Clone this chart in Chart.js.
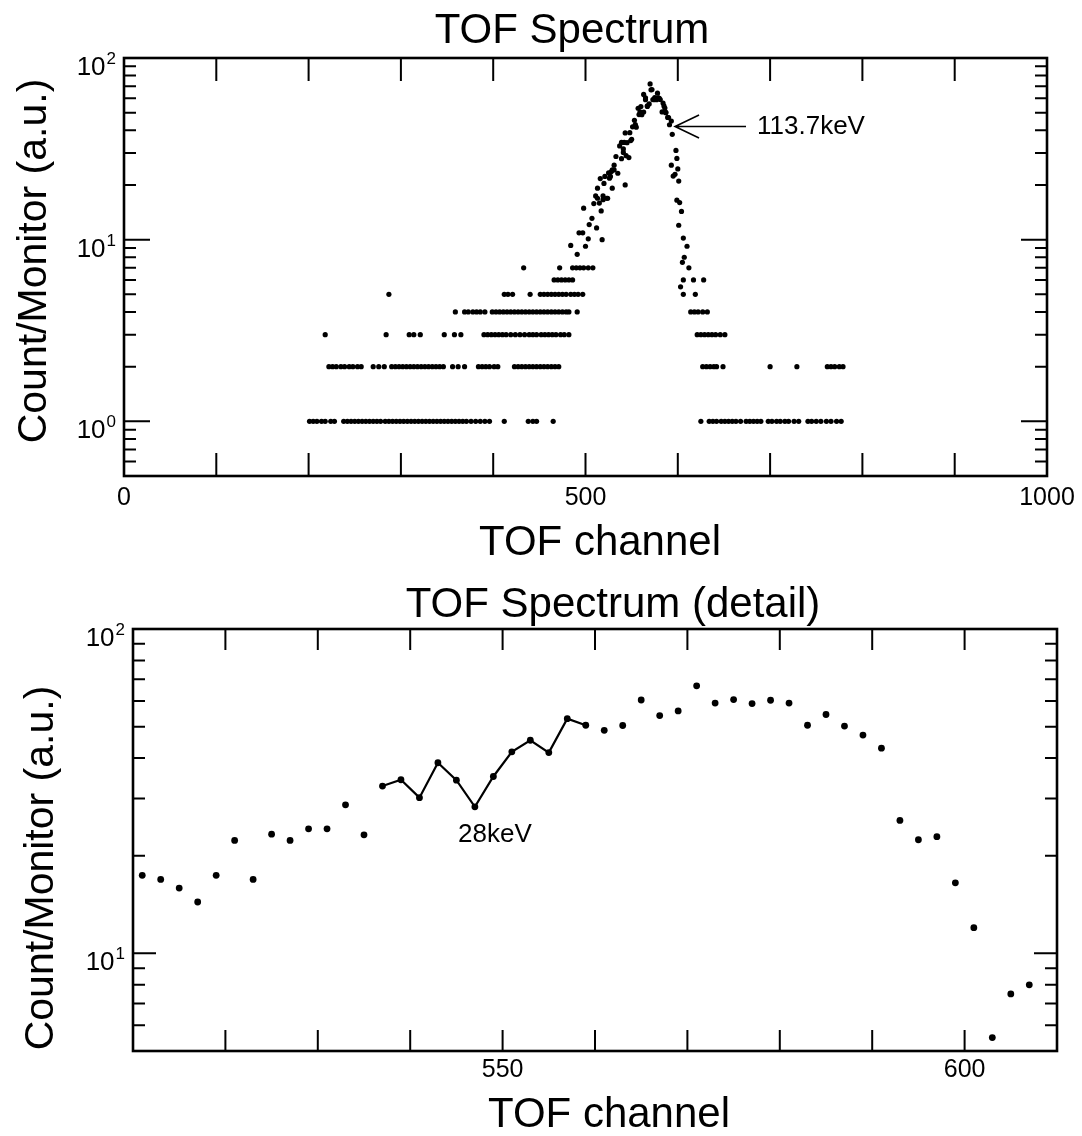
<!DOCTYPE html>
<html lang="en">
<head>
<meta charset="UTF-8">
<title>TOF Spectrum</title>
<script src="https://cdn.jsdelivr.net/npm/chart.js"></script>
<style>
  body { margin: 0; background: #fff; }
  canvas { position: absolute; left: 0; }
</style>
</head>
<body>
<canvas id="fullChart" width="1082" height="568" style="top:0"></canvas>
<canvas id="detailChart" width="1082" height="568" style="top:568px"></canvas>
<script>
// ---- full spectrum: low-count rows (count/monitor is a whole number there) ----
const ch1 = [201, 205, 209, 214, 218, 224, 228, 238, 242, 246, 250, 254, 258, 262, 266, 270, 274, 278, 283, 287,
  291, 295, 299, 303, 307, 311, 315, 319, 323, 327, 331, 335, 339, 343, 347, 351, 355, 359, 363, 367, 371, 376,
  381, 386, 391, 396, 412, 438, 443, 447, 465,
  625, 634, 638, 642, 647, 651, 655, 659, 663, 668, 674, 678, 682, 686, 690, 698, 702, 707, 711, 716, 720, 726,
  731, 741, 745, 750, 755, 761, 766, 772, 777];
const ch2 = [222, 226, 230, 235, 239, 244, 248, 253, 257, 270, 276, 282, 290, 294, 298, 302, 306, 310, 314, 318,
  322, 326, 330, 334, 338, 342, 346, 356, 362, 369, 384, 388, 392, 396, 401, 405, 423, 427, 431, 435, 439, 443,
  447, 451, 455, 459, 463, 467, 471,
  627, 631, 635, 639, 642, 649, 700, 729, 762, 766, 770, 775, 779];
const ch3 = [218, 284, 309, 314, 321, 347, 358, 365, 390, 394, 398, 402, 406, 410, 414, 419, 424, 429, 434, 439,
  443, 447, 452, 456, 460, 464, 468, 473, 477, 482,
  621, 625, 629, 633, 637, 641, 646, 651];
const ch4 = [359, 369, 373, 378, 382, 386, 391, 399, 403, 407, 411, 415, 419, 423, 427, 431, 435, 439, 443, 447,
  451, 455, 459, 463, 467, 471, 475, 479, 482, 491,
  614, 618, 622, 627, 632];
const ch5 = [287, 412, 416, 421, 440, 451, 455, 459, 463, 467, 471, 475, 479, 484, 488, 492, 497, 606, 619];
const ch6 = [466, 470, 474, 478, 482, 486, 606, 617, 628];
const ch7 = [433, 472, 486, 490, 494, 498, 503, 508, 612];
const countLevels = [1, 2, 3, 4, 5, 6, 7];
const levelChannels = [ch1, ch2, ch3, ch4, ch5, ch6, ch7];

// ---- full spectrum: rising edge, peak and falling edge ----
const peakCh = [484, 491, 493, 497, 498, 500, 503, 504, 507, 509, 512, 513, 516, 518, 519, 520, 524, 526, 528,
  529, 531, 539, 541, 542, 543, 544, 548, 550, 554, 558, 560, 563, 565, 567, 570, 572, 574, 578, 580, 584, 586,
  587, 590, 593, 594, 598, 599, 600, 601, 602, 604, 606, 610];
const peakVal = [9.3, 8.3, 10.9, 10.9, 14.9, 9.2, 10.1, 12.1, 13.1, 15.8, 11.6, 19.2, 21.7, 10.0, 16.6, 20.4,
  16.9, 21.8, 23.7, 19.2, 25.7, 27.9, 31.6, 34.3, 20.0, 29.0, 38.8, 35.7, 43.0, 48.8, 54.0, 63.0, 59.0, 54.6,
  72.0, 67.0, 59.0, 64.0, 60.0, 56.5, 53.0, 50.0, 47.0, 45.0, 38.0, 31.0, 28.0, 24.5, 21.0, 16.0, 14.3, 10.2, 9.2];

// ---- detail spectrum (same scan, channels 511-607) ----
const detailCh = [511, 513, 515, 517, 519, 521, 523, 525, 527, 529, 531, 533, 535, 537, 539, 541, 543, 545,
  547, 549, 551, 553, 555, 557, 559, 561, 563, 565, 567, 569, 571, 573, 575, 577, 579, 581, 583, 585, 587, 589,
  591, 593, 595, 597, 599, 601, 603, 605, 607];
const detailVal = [17.4, 16.9, 15.9, 14.4, 17.4, 22.3, 16.9, 23.3, 22.3, 24.2, 24.2, 28.7, 23.2, 32.8, 34.3,
  30.2, 38.7, 34.2, 28.3, 35.1, 41.8, 45.4, 41.6, 52.9, 50.5, 48.7, 50.4, 60.4, 54.1, 55.9, 66.8, 59.1, 60.6,
  58.9, 60.3, 59.1, 50.5, 54.5, 50.2, 47.1, 42.9, 25.7, 22.4, 22.9, 16.5, 12.0, 5.5, 7.5, 8.0];
const joinedFrom = 537, joinedTo = 559;   // channels joined by the solid line
const markedCh = 547;                      // the 28keV dip

const fullTickLabels = [0, 500, 1000];
const detailTickLabels = [550, 600];

const FONT = '"Liberation Sans", Arial, Helvetica, sans-serif';

function logTicks(min, max) {
  const out = [];
  for (let e = Math.floor(Math.log10(min)); e <= Math.ceil(Math.log10(max)); e++) {
    for (let m = 1; m <= 9; m++) {
      const v = m * Math.pow(10, e);
      if (v >= min * 0.9999 && v <= max * 1.0001) out.push({ v: v, major: m === 1, exp: e });
    }
  }
  return out;
}

function drawText(ctx, str, x, y, size, align) {
  ctx.font = size + 'px ' + FONT;
  ctx.textAlign = align;
  ctx.textBaseline = 'alphabetic';
  ctx.fillText(str, x, y);
}

function paperAxes(cfg) {
  return {
    id: 'paperAxes',
    afterDraw(chart) {
      const ctx = chart.ctx, a = chart.chartArea, x = chart.scales.x, y = chart.scales.y;
      ctx.save();
      ctx.strokeStyle = '#000';
      ctx.fillStyle = '#000';
      ctx.lineWidth = 2;
      ctx.beginPath();
      for (let v = cfg.xMin + cfg.xStep; v < cfg.xMax; v += cfg.xStep) {
        const px = x.getPixelForValue(v);
        ctx.moveTo(px, a.bottom); ctx.lineTo(px, a.bottom - cfg.xTickLen);
        ctx.moveTo(px, a.top); ctx.lineTo(px, a.top + cfg.xTickLen);
      }
      const ticks = logTicks(cfg.yMin, cfg.yMax);
      ticks.forEach(t => {
        const py = y.getPixelForValue(t.v);
        const len = t.major ? cfg.yMajorLen : cfg.yMinorLen;
        ctx.moveTo(a.left, py); ctx.lineTo(a.left + len, py);
        ctx.moveTo(a.right, py); ctx.lineTo(a.right - len, py);
      });
      ctx.stroke();
      ctx.lineWidth = 2.6;
      ctx.strokeRect(a.left, a.top, a.right - a.left, a.bottom - a.top);

      // x tick labels
      cfg.xLabels.forEach(v => {
        drawText(ctx, String(v), x.getPixelForValue(v), a.bottom + cfg.xLabelGap, 25, 'center');
      });
      // y tick labels: 10 with a raised exponent
      ticks.filter(t => t.major).forEach(t => {
        const py = y.getPixelForValue(t.v) + 17;
        const right = a.left - 8;
        ctx.font = '17px ' + FONT;
        const expW = ctx.measureText(String(t.exp)).width;
        drawText(ctx, String(t.exp), right, py - 11, 17, 'right');
        drawText(ctx, '10', right - expW - 1, py, 26, 'right');
      });
      // titles
      drawText(ctx, cfg.title, cfg.titleX, cfg.titleY, 42, 'center');
      drawText(ctx, 'TOF channel', cfg.xTitleX, cfg.xTitleY, 42, 'center');
      ctx.save();
      ctx.translate(cfg.yTitleX, cfg.yTitleY);
      ctx.rotate(-Math.PI / 2);
      drawText(ctx, 'Count/Monitor (a.u.)', 0, 0, 41, 'center');
      ctx.restore();
      if (cfg.extra) cfg.extra(chart);
      ctx.restore();
    }
  };
}

// ---- full spectrum chart ----
const fullPoints = [];
levelChannels.forEach((list, i) => list.forEach(c => fullPoints.push({ x: c, y: countLevels[i] })));
peakCh.forEach((c, i) => fullPoints.push({ x: c, y: peakVal[i] }));
detailCh.forEach((c, i) => fullPoints.push({ x: c, y: detailVal[i] }));

new Chart(document.getElementById('fullChart'), {
  type: 'scatter',
  data: {
    datasets: [{
      data: fullPoints,
      pointRadius: 2.6,
      pointBorderWidth: 0,
      pointBackgroundColor: '#000',
    }],
  },
  options: {
    responsive: false,
    animation: false,
    layout: { padding: { left: 124, right: 35, top: 58, bottom: 92 } },
    plugins: { legend: { display: false }, tooltip: { enabled: false } },
    scales: {
      x: { type: 'linear', min: 0, max: 1000, display: false },
      y: { type: 'logarithmic', min: 0.5, max: 100, display: false },
    },
  },
  plugins: [paperAxes({
    xMin: 0, xMax: 1000, xStep: 100, xTickLen: 23, xLabels: fullTickLabels, xLabelGap: 29,
    yMin: 0.5, yMax: 100, yMajorLen: 26, yMinorLen: 12,
    title: 'TOF Spectrum', titleX: 572, titleY: 43,
    xTitleX: 600, xTitleY: 555, yTitleX: 46, yTitleY: 261,
    extra(chart) {
      const ctx = chart.ctx;
      const tx = chart.scales.x.getPixelForValue(597);
      const ty = chart.scales.y.getPixelForValue(42);
      ctx.lineWidth = 1.6;
      ctx.beginPath();
      ctx.moveTo(tx + 71, ty); ctx.lineTo(tx, ty);
      ctx.moveTo(tx + 24, ty - 11.5); ctx.lineTo(tx, ty); ctx.lineTo(tx + 24, ty + 11.5);
      ctx.stroke();
      drawText(ctx, '113.7keV', tx + 82, ty + 8, 26, 'left');
    },
  })],
});

// ---- detail chart ----
const detailPoints = detailCh.map((c, i) => ({ x: c, y: detailVal[i] }));
const joinedPoints = detailPoints.filter(p => p.x >= joinedFrom && p.x <= joinedTo);

new Chart(document.getElementById('detailChart'), {
  type: 'scatter',
  data: {
    datasets: [{
      data: joinedPoints,
      showLine: true,
      borderColor: '#000',
      borderWidth: 2.2,
      pointRadius: 0,
    }, {
      data: detailPoints,
      pointRadius: 3.4,
      pointBorderWidth: 0,
      pointBackgroundColor: '#000',
    }],
  },
  options: {
    responsive: false,
    animation: false,
    layout: { padding: { left: 133, right: 25, top: 61, bottom: 85 } },
    plugins: { legend: { display: false }, tooltip: { enabled: false } },
    scales: {
      x: { type: 'linear', min: 510, max: 610, display: false },
      y: { type: 'logarithmic', min: 5, max: 100, display: false },
    },
  },
  plugins: [paperAxes({
    xMin: 510, xMax: 610, xStep: 10, xTickLen: 21, xLabels: detailTickLabels, xLabelGap: 26,
    yMin: 5, yMax: 100, yMajorLen: 23, yMinorLen: 12,
    title: 'TOF Spectrum (detail)', titleX: 613, titleY: 49,
    xTitleX: 609, xTitleY: 559, yTitleX: 53, yTitleY: 300,
    extra(chart) {
      const i = detailCh.indexOf(markedCh);
      const px = chart.scales.x.getPixelForValue(markedCh);
      const py = chart.scales.y.getPixelForValue(detailVal[i]);
      drawText(chart.ctx, '28keV', px + 20, py + 35, 26, 'center');
    },
  })],
});
</script>
</body>
</html>
